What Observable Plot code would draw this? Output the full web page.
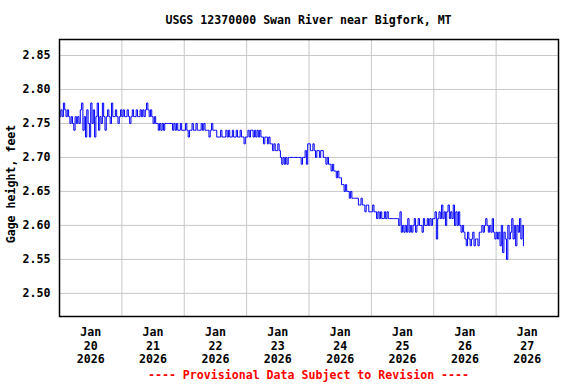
<!DOCTYPE html>
<html>
<head>
<meta charset="utf-8">
<script src="https://cdn.jsdelivr.net/npm/d3@7"></script>
<script src="https://cdn.jsdelivr.net/npm/@observablehq/plot@0.6"></script>
<style>
  html, body { margin: 0; padding: 0; background: #fff; }
  #wrap { position: relative; width: 576px; height: 384px; font-family: "DejaVu Sans Mono", monospace; font-weight: bold; font-size: 11.6px; }
  #title { position: absolute; top: 13px; left: 59px; width: 499px; text-align: center; line-height: 14px; color: #000; }
  #foot { position: absolute; top: 368px; left: 59px; width: 499px; text-align: center; line-height: 14px; color: #ff0000; }
  #wrap svg { position: absolute; top: 0; left: 0; }
</style>
</head>
<body>
<div id="wrap">
  <div id="chart"></div>
  <div id="title">USGS 12370000 Swan River near Bigfork, MT</div>
  <div id="foot">---- Provisional Data Subject to Revision ----</div>
</div>
<script>
// Gage height (feet), 30-minute readings, one array per day
const jan20 = [2.76,2.77,2.76,2.78,2.77,2.76,2.77,2.76, 2.75,2.76,2.75,2.74,2.76,2.75,2.76,2.75,2.77, 2.78,2.74,2.76,2.73,2.77,2.75, 2.73,2.78,2.75,2.77,2.73,2.76,2.78,2.74,2.76,2.75,2.78,2.76,2.74, 2.76,2.77,2.76,2.75,2.78,2.76,2.76,2.77,2.76,2.75,2.76,2.77];
const jan21 = [2.76,2.77,2.76,2.76,2.77,2.76,2.75,2.76,2.77,2.76,2.76,2.77,2.76,2.76,2.77,2.76,2.77, 2.76,2.77,2.78,2.77,2.76,2.77,2.76, 2.75,2.76,2.75,2.75, 2.74,2.75,2.74,2.75,2.74, 2.75,2.75,2.75,2.75,2.75,2.75,2.74,2.75,2.74,2.75,2.74, 2.74,2.75,2.74,2.74];
const jan22 = [2.74,2.75,2.74,2.73,2.74,2.74, 2.75,2.74,2.74,2.75,2.74,2.74,2.74,2.75,2.74,2.75,2.74,2.74, 2.74,2.73,2.74,2.75,2.74,2.74,2.74,2.73, 2.73,2.73,2.74,2.73,2.73,2.73,2.74,2.73, 2.74,2.73,2.73,2.74,2.73,2.73,2.74,2.73,2.73,2.74,2.73,2.73,2.72,2.73];
const jan23 = [2.73,2.74,2.73,2.74,2.74,2.73,2.74,2.73,2.74,2.73,2.74,2.73,2.73,2.72,2.73,2.73, 2.72,2.73,2.72,2.72, 2.71,2.72,2.71,2.71,2.72, 2.71,2.70, 2.69,2.70,2.69,2.70,2.69,2.70, 2.70,2.70,2.70,2.70,2.70,2.70,2.70,2.70, 2.70,2.69,2.70,2.70,2.71,2.69,2.72];
const jan24 = [2.72,2.71, 2.71,2.72,2.71,2.70,2.71,2.71,2.70,2.71,2.71, 2.70,2.70,2.69,2.70,2.69, 2.69,2.68,2.69,2.68,2.68, 2.67,2.68,2.67,2.67,2.66, 2.66,2.65,2.66,2.65,2.65, 2.64,2.65,2.64,2.64,2.64,2.64,2.64,2.63, 2.63,2.64,2.63,2.63,2.62,2.63,2.63,2.62,2.62];
const jan25 = [2.62,2.63,2.62,2.62,2.61,2.62, 2.61,2.62,2.61,2.61,2.62,2.61,2.62,2.61,2.61,2.61,2.61,2.61,2.61,2.61,2.61, 2.60,2.62,2.59,2.60, 2.59,2.60,2.59,2.61,2.59,2.60,2.59,2.60,2.61,2.59, 2.60,2.61,2.60,2.60,2.59,2.61,2.60,2.60,2.61,2.60,2.61,2.60, 2.61];
const jan26 = [2.61,2.62,2.58,2.61, 2.62,2.61,2.63,2.61,2.62,2.60,2.62,2.63,2.61,2.62,2.61,2.63,2.60,2.62, 2.60,2.62,2.60,2.59,2.60,2.59, 2.58,2.57,2.59,2.58,2.57,2.58,2.59,2.57,2.58,2.58,2.57,2.59, 2.59,2.60,2.59, 2.60,2.61, 2.60,2.59,2.60,2.59, 2.61, 2.59,2.58];
const jan27 = [2.59,2.58,2.59,2.57,2.60,2.56,2.59,2.58,2.55,2.60,2.58,2.59,2.61,2.58,2.60,2.57,2.60,2.59,2.61,2.58,2.60,2.57];

const days = [jan20, jan21, jan22, jan23, jan24, jan25, jan26, jan27];
const dayNumbers = [20, 21, 22, 23, 24, 25, 26, 27];
const yTicks = [2.50, 2.55, 2.60, 2.65, 2.70, 2.75, 2.80, 2.85];
const yDomain = [2.466, 2.8735];
const stepMinutes = 30;

const data = [];
days.forEach((arr, k) => {
  arr.forEach((v, i) => {
    data.push({t: new Date(Date.UTC(2026, 0, dayNumbers[k]) + i * stepMinutes * 60000), v});
  });
});
const midnights = dayNumbers.slice(1).map(d => new Date(Date.UTC(2026, 0, d)));
const noons = dayNumbers.map(d => new Date(Date.UTC(2026, 0, d, 12)));
const xDomain = [new Date(Date.UTC(2026, 0, 20)), new Date(Date.UTC(2026, 0, 28))];

const chart = Plot.plot({
  width: 576,
  height: 384,
  marginTop: 39,
  marginBottom: 68,
  marginLeft: 59,
  marginRight: 18,
  style: {fontFamily: "'DejaVu Sans Mono', monospace", fontWeight: "bold", fontSize: "11.6px", color: "#000", background: "#fff"},
  x: {type: "utc", domain: xDomain, axis: null},
  y: {domain: yDomain, axis: null},
  marks: [
    Plot.gridY(yTicks, {stroke: "#c8c8c8", strokeOpacity: 1, strokeWidth: 1}),
    Plot.gridX(midnights, {stroke: "#c8c8c8", strokeOpacity: 1, strokeWidth: 1}),
    Plot.line(data, {x: "t", y: "v", stroke: "#0000ff", strokeWidth: 1, curve: "step-after"}),
    Plot.frame({stroke: "#000", strokeWidth: 1.5}),
    Plot.axisY(yTicks, {tickSize: 0, tickPadding: 9, tickFormat: d => d.toFixed(2), label: null}),
    Plot.text(noons, {x: d => d, text: d => "Jan\n" + d.getUTCDate() + "\n" + d.getUTCFullYear(),
      frameAnchor: "bottom", lineAnchor: "top", dy: 10, lineHeight: 1.17}),
    Plot.text(["Gage height, feet"], {frameAnchor: "left", textAnchor: "middle", dx: -48, dy: 6, rotate: -90})
  ]
});
document.getElementById("chart").appendChild(chart);
</script>
</body>
</html>
